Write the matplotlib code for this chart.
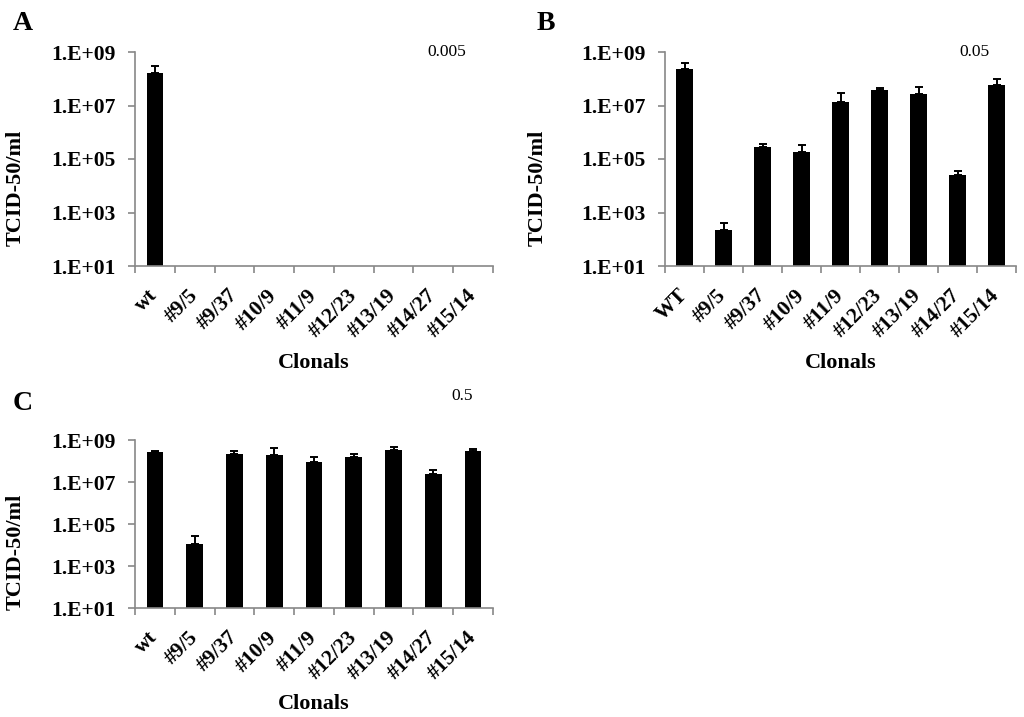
import numpy as np
import matplotlib
matplotlib.use("Agg")
import matplotlib.pyplot as plt
from matplotlib.ticker import FixedLocator, NullLocator, FuncFormatter

plt.rcParams['font.family'] = ['Liberation Serif', 'DejaVu Serif']

# clone names (first entry is wild type)
clones = ["#9/5", "#9/37", "#10/9", "#11/9", "#12/23", "#13/19", "#14/27", "#15/14"]
labels_a = ["wt"] + clones
labels_b = ["WT"] + clones
labels_c = ["wt"] + clones

# TCID-50/ml, MOI 0.005 (only wt grew)
titer_a = [1.7e8, np.nan, np.nan, np.nan, np.nan, np.nan, np.nan, np.nan, np.nan]
top_a = [2.9e8, np.nan, np.nan, np.nan, np.nan, np.nan, np.nan, np.nan, np.nan]

# MOI 0.05
titer_b = [2.4e8, 220, 2.8e5, 1.8e5, 1.3e7, 3.8e7, 2.8e7, 2.5e4, 6.0e7]
top_b = [3.8e8, 400, 3.5e5, 3.4e5, 2.9e7, 4.5e7, 4.9e7, 3.6e4, 9.6e7]

# MOI 0.5
titer_c = [2.8e8, 1.1e4, 2.1e8, 1.9e8, 8.9e7, 1.5e8, 3.2e8, 2.4e7, 2.9e8]
top_c = [3.0e8, 2.7e4, 3.0e8, 4.0e8, 1.5e8, 2.1e8, 4.6e8, 3.8e7, 3.6e8]

W, H = 1024, 717
fig = plt.figure(figsize=(W / 100, H / 100), dpi=100)


def px_axes(l, t, r, b):
    return fig.add_axes([l / W, 1 - b / H, (r - l) / W, (b - t) / H])


def panel(ax, labels, vals, tops, ylab_xy, xlab_y):
    vals = np.array(vals, dtype=float)
    tops = np.array(tops, dtype=float)
    x = np.arange(len(labels))
    ax.set_yscale('log')
    ax.bar(x, vals, width=0.42, color='black', zorder=2)
    up = tops - vals
    ax.errorbar(x, vals, yerr=[np.zeros_like(up), up], fmt='none',
                ecolor='black', elinewidth=1.4, capsize=3.2, capthick=1.4, zorder=3)
    ax.set_ylim(10, 1e9)
    ax.set_xlim(-0.5, len(labels) - 0.5)
    ax.yaxis.set_major_locator(FixedLocator([1e1, 1e3, 1e5, 1e7, 1e9]))
    ax.yaxis.set_minor_locator(NullLocator())
    ax.yaxis.set_major_formatter(FuncFormatter(lambda v, p: "1.E+%02d" % round(np.log10(v))))
    ax.set_xticks(x)
    ax.set_xticklabels(labels, rotation=45, ha='right', va='center',
                       rotation_mode='anchor', fontsize=15.5, fontweight='bold')
    ax.set_xticks(np.arange(len(labels) + 1) - 0.5, minor=True)
    ax.tick_params(axis='x', which='major', length=0, pad=19)
    ax.tick_params(axis='x', which='minor', length=5, color='#888888', width=1.2)
    ax.tick_params(axis='y', length=5, color='#888888', width=1.2, pad=9)
    for lab in ax.get_yticklabels():
        lab.set_fontsize(15.5)
        lab.set_fontweight('bold')
    for s in ['top', 'right']:
        ax.spines[s].set_visible(False)
    for s in ['left', 'bottom']:
        ax.spines[s].set_color('#888888')
        ax.spines[s].set_linewidth(1.2)
    ax.set_ylabel("TCID-50/ml", fontsize=16, fontweight='bold')
    ax.yaxis.set_label_coords(*ylab_xy)
    ax.set_xlabel("Clonals", fontsize=16, fontweight='bold')
    ax.xaxis.set_label_coords(0.5, xlab_y)


ax_a = px_axes(135, 52, 493, 266)
panel(ax_a, labels_a, titer_a, top_a, (-0.305, 0.364), -0.405)
ax_b = px_axes(665, 52, 1016, 266)
panel(ax_b, labels_b, titer_b, top_b, (-0.334, 0.364), -0.405)
ax_c = px_axes(135, 440, 493, 608)
panel(ax_c, labels_c, titer_c, top_c, (-0.305, 0.333), -0.51)

# panel letters and MOI notes
fig.text(23 / W, 1 - 23 / H, "A", fontsize=20, fontweight='bold', ha='center', va='center')
fig.text(546 / W, 1 - 23 / H, "B", fontsize=20, fontweight='bold', ha='center', va='center')
fig.text(23 / W, 1 - 403 / H, "C", fontsize=20, fontweight='bold', ha='center', va='center')
fig.text(447 / W, 1 - 52 / H, "0.005", fontsize=12.5, ha='center', va='center')
fig.text(974 / W, 1 - 52 / H, "0.05", fontsize=12.5, ha='center', va='center')
fig.text(462 / W, 1 - 396 / H, "0.5", fontsize=12.5, ha='center', va='center')

fig.savefig("out.png", dpi=100)
